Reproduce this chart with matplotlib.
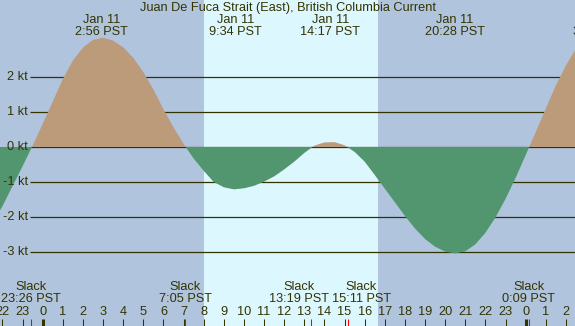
import numpy as np
import matplotlib
matplotlib.use('Agg')
import matplotlib.pyplot as plt

# Current speed (kt) every half hour, hours relative to Jan 11 00:00 PST
hours = [-2.5, -2.0, -1.5, -1.0, -0.5, 0.0, 0.5, 1.0, 1.5, 2.0,
         2.5, 3.0, 3.5, 4.0, 4.5, 5.0, 5.5, 6.0, 6.5, 7.0,
         7.5, 8.0, 8.5, 9.0, 9.5, 10.0, 10.5, 11.0, 11.5, 12.0,
         12.5, 13.0, 13.5, 14.0, 14.5, 15.0, 15.5, 16.0, 16.5, 17.0,
         17.5, 18.0, 18.5, 19.0, 19.5, 20.0, 20.5, 21.0, 21.5, 22.0,
         22.5, 23.0, 23.5, 24.0, 24.5, 25.0, 25.5, 26.0, 26.5]
knots = [-2.20, -1.69, -1.12, -0.55, 0.04, 0.66, 1.30, 1.94, 2.47, 2.84,
         3.06, 3.12, 3.04, 2.85, 2.55, 2.14, 1.64, 1.08, 0.56, 0.09,
         -0.33, -0.68, -1.00, -1.15, -1.21, -1.18, -1.11, -0.99, -0.84, -0.64,
         -0.42, -0.17, 0.04, 0.13, 0.14, 0.05, -0.14, -0.42, -0.80, -1.19,
         -1.58, -1.97, -2.33, -2.63, -2.85, -2.99, -3.04, -2.98, -2.78, -2.45,
         -2.01, -1.48, -0.88, -0.23, 0.43, 1.10, 1.76, 2.33, 2.81]

# max flood / ebb events (top labels)
max_hours = [2.933, 9.567, 14.283, 20.467, 27.68]
max_dates = ['Jan 11', 'Jan 11', 'Jan 11', 'Jan 11', 'Jan 12']
max_times = ['2:56 PST', '9:34 PST', '14:17 PST', '20:28 PST', '3:41 PST']

# slack water events (bottom labels)
slack_hours = [-0.567, 7.083, 13.317, 15.183, 24.15]
slack_times = ['23:26 PST', '7:05 PST', '13:19 PST', '15:11 PST', '0:09 PST']

kt_levels = [2, 1, 0, -1, -2, -3]
hour_ticks = list(range(-2, 27))
sunrise, sunset = 8.02, 16.66

title = 'Juan De Fuca Strait (East), British Columbia Current'

night = '#b0c4de'
day = '#ddf7ff'
flood = '#bc9b7b'
ebb = '#52966f'
ink = '#333300'

plt.rcParams['font.family'] = ['Liberation Sans', 'DejaVu Sans']
fs = 9.2

fig = plt.figure(figsize=(5.75, 3.26), dpi=100, facecolor=night)
ax = fig.add_axes([0, 0, 1, 1])
ax.set_axis_off()

# pixel layout: hour 0 at x=42.7, 20.125 px/hour; 0 kt at y=147, 35 px/kt
px_per_hr = 20.125
x0 = -42.7 / px_per_hr
x1 = (575 - 42.7) / px_per_hr
ax.set_xlim(x0, x1)
ax.set_ylim((147 - 326) / 35, 147 / 35)

ax.axvspan(sunrise, sunset, color=day, lw=0, zorder=0)

ax.hlines(kt_levels, (30 - 42.7) / px_per_hr, x1 + 1, color=ink, lw=0.9, zorder=1)

h = np.array(hours)
v = np.array(knots)
ax.fill_between(h, v, 0, where=v >= 0, interpolate=True, color=flood, lw=0, zorder=2)
ax.fill_between(h, v, 0, where=v <= 0, interpolate=True, color=ebb, lw=0, zorder=2)

for k in kt_levels:
    ax.text((28 - 42.7) / px_per_hr, k, f'{k} kt', ha='right', va='center',
            fontsize=fs, color=ink, zorder=4)

tr = ax.get_xaxis_transform()

def yf(px):
    return 1 - px / 326

ax.text(0.5, yf(7.5), title, transform=ax.transAxes, ha='center', va='center',
        fontsize=fs, color=ink, zorder=4)

for t, d, s in zip(max_hours, max_dates, max_times):
    ax.text(t, yf(19.7), d, transform=tr, ha='center', va='center', fontsize=fs, color=ink, zorder=4)
    ax.text(t, yf(31.7), s, transform=tr, ha='center', va='center', fontsize=fs, color=ink, zorder=4)

# the two close slack labels are pushed apart so they do not overlap
label_shift_px = [0, 0, -12, 13, 0]
for t, s, dx in zip(slack_hours, slack_times, label_shift_px):
    xl = t + dx / px_per_hr
    ax.text(xl, yf(286.7), 'Slack', transform=tr, ha='center', va='center', fontsize=fs, color=ink, zorder=4)
    ax.text(xl, yf(299.3), s, transform=tr, ha='center', va='center', fontsize=fs, color=ink, zorder=4)

tick_top = yf(318.5)
for hr in hour_ticks:
    ax.text(hr, yf(311.7), str(hr % 24), transform=tr, ha='center', va='center',
            fontsize=fs, color=ink, zorder=4)
    lw = 2.2 if hr % 24 == 0 else 0.75
    ax.plot([hr, hr], [0, tick_top], transform=tr, color=ink, lw=lw,
            solid_capstyle='butt', zorder=3)

for t in slack_hours:
    ax.plot([t, t], [0, tick_top], transform=tr, color='red', lw=0.75,
            solid_capstyle='butt', zorder=3)

fig.savefig('out.png', dpi=100, facecolor=night)
